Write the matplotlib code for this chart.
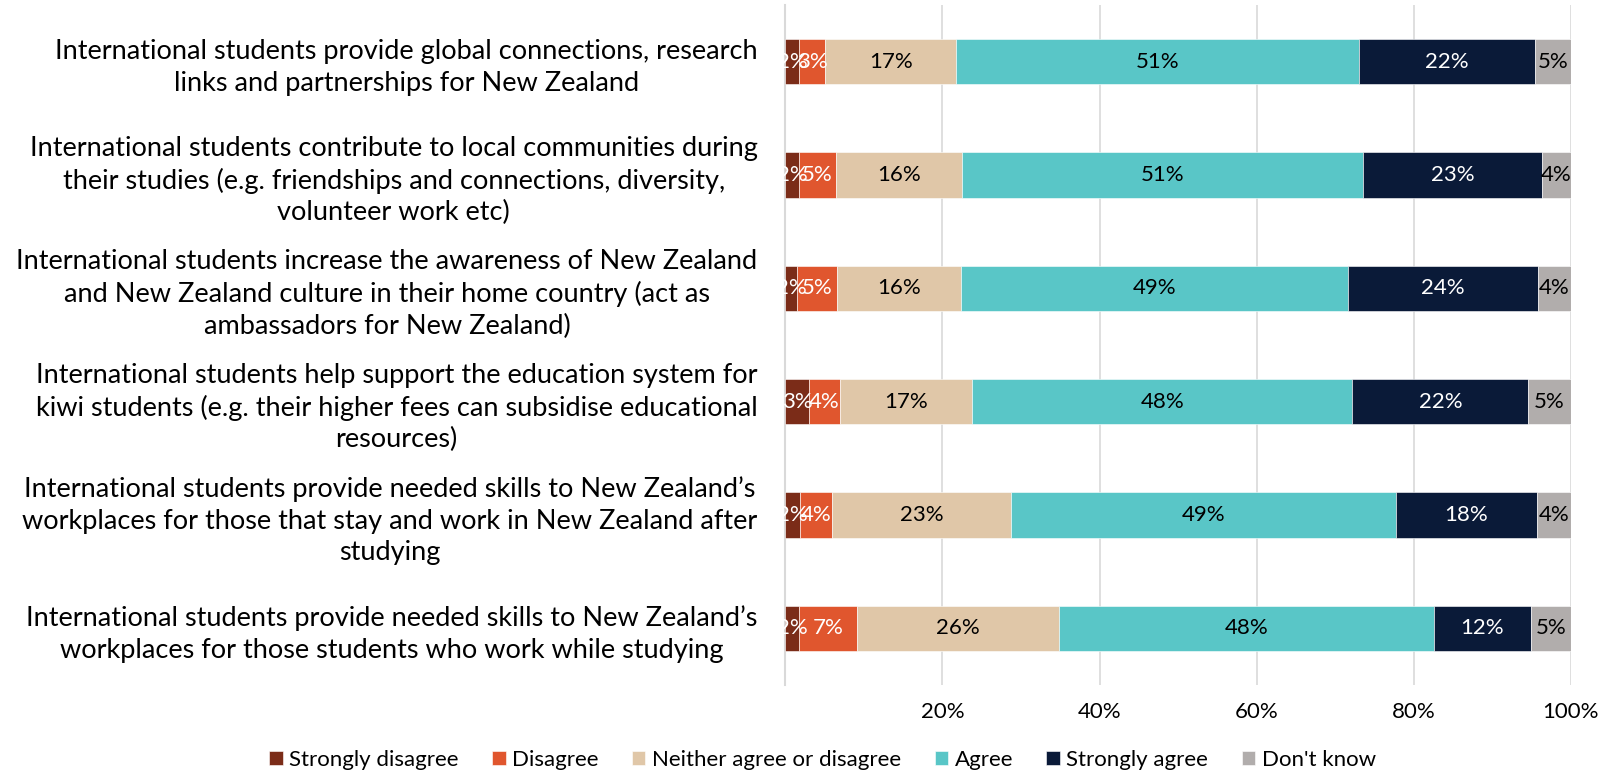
import matplotlib
matplotlib.use("Agg")
import matplotlib.pyplot as plt
import numpy as np

categories = [
    "International students provide global connections, research\nlinks and partnerships for New Zealand",
    "International students contribute to local communities during\ntheir studies (e.g. friendships and connections, diversity,\nvolunteer work etc)",
    "International students increase the awareness of New Zealand\nand New Zealand culture in their home country (act as\nambassadors for New Zealand)",
    "International students help support the education system for\nkiwi students (e.g. their higher fees can subsidise educational\nresources)",
    "International students provide needed skills to New Zealand\u2019s\nworkplaces for those that stay and work in New Zealand after\nstudying",
    "International students provide needed skills to New Zealand\u2019s\nworkplaces for those students who work while studying",
]
series_names = ["Strongly disagree", "Disagree", "Neither agree or disagree",
                "Agree", "Strongly agree", "Don't know"]
strongly_disagree = [1.7, 1.7, 1.5, 3.0, 1.8, 1.7]
disagree = [3.4, 4.8, 5.1, 3.9, 4.2, 7.4]
neither = [16.6, 16.0, 15.8, 16.9, 22.7, 25.7]
agree = [51.4, 51.1, 49.3, 48.4, 49.0, 47.8]
strongly_agree = [22.3, 22.7, 24.1, 22.4, 18.0, 12.3]
dont_know = [4.6, 3.7, 4.2, 5.4, 4.3, 5.1]
tick_values = [0, 20, 40, 60, 80, 100]
tick_labels = ["", "20%", "40%", "60%", "80%", "100%"]

colors = ["#7B2C18", "#E0562E", "#E0C7A8", "#59C6C7", "#0A1A38", "#B1ADAC"]
text_colors = ["white", "white", "black", "black", "white", "black"]

plt.rcParams['font.family'] = ['Lato', 'DejaVu Sans']

fig = plt.figure(figsize=(16.16, 7.71), dpi=100)
ax = fig.add_axes([0.486, 0.1115, 0.486, 0.882])

data = [strongly_disagree, disagree, neither, agree, strongly_agree, dont_know]
y = np.arange(len(categories))
left = np.zeros(len(categories))
for vals, name, col, tc in zip(data, series_names, colors, text_colors):
    vals = np.array(vals)
    ax.barh(y, vals, left=left, height=0.4, color=col, label=name,
            edgecolor="white", linewidth=0.4, zorder=3)
    for yi, l, v in zip(y, left, vals):
        ax.text(l + v / 2, yi, f"{round(v)}%", ha="center", va="center",
                color=tc, fontsize=16, zorder=4)
    left = left + vals

ax.set_xlim(0, 100)
ax.set_ylim(len(categories) - 0.5, -0.5)
ax.set_xticks(tick_values)
ax.set_xticklabels(tick_labels, fontsize=16)
ax.set_yticks(y)
ax.set_yticklabels(categories, fontsize=19.5)
for t in ax.get_yticklabels():
    t.set_multialignment("center")
    t.set_linespacing(1.32)
ax.tick_params(axis="y", length=0, pad=20)
ax.tick_params(axis="x", length=0, pad=12)
ax.grid(axis="x", color="#D9D9D9", linewidth=1.2, zorder=0)
for s in ["top", "right", "bottom"]:
    ax.spines[s].set_visible(False)
ax.spines["left"].set_color("#D9D9D9")
ax.spines["left"].set_linewidth(1.5)

fig.legend(loc="lower center", bbox_to_anchor=(0.509, -0.025), ncol=6,
           frameon=False, fontsize=16, handlelength=0.6, handleheight=0.6,
           handletextpad=0.3, columnspacing=1.5)

fig.savefig("out.png", dpi=100)
